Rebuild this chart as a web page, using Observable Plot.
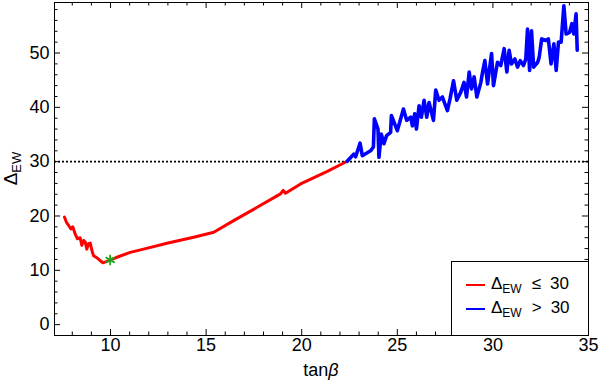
<!DOCTYPE html>
<html><head><meta charset="utf-8">
<script src="https://cdn.jsdelivr.net/npm/d3@7"></script>
<script src="https://cdn.jsdelivr.net/npm/@observablehq/plot@0.6"></script>
<style>
body{margin:0;background:#fff;font-family:"Liberation Sans",Arial,sans-serif;}
#wrap{position:relative;width:600px;height:382px;}
#legend{position:absolute;left:451px;top:261px;width:137px;height:74px;border-left:1px solid #000;border-top:1px solid #000;background:#fff;box-sizing:border-box;font-size:17px;color:#000;}
.row{position:absolute;left:0;height:20px;white-space:nowrap;}
.sw{position:absolute;left:14px;width:19px;height:2px;}
.lt{position:absolute;left:39px;line-height:20px;}
.lt sub{font-size:12px;vertical-align:-4px;line-height:0;}
.op{margin-left:10px;}
.num{margin-left:9px;}
</style></head><body><div id="wrap"><div id="legend"></div></div>
<script>
// red branch (Delta_EW <= 30)
const redX = [7.59,7.70,7.80,7.93,8.03,8.15,8.27,8.41,8.50,8.59,8.68,8.76,8.85,8.94,9.03,9.11,9.29,9.42,9.60,9.78,9.98,10.33,11.03,11.73,12.95,14.35,15.40,16.44,17.67,18.89,19.03,19.15,19.94,21.34,22.38];
const redY = [19.8,18.8,18.3,17.6,18.0,16.7,15.8,16.0,14.6,15.5,15.2,13.9,14.9,15.0,13.6,12.7,12.3,11.9,11.4,11.6,11.9,12.4,13.3,13.9,14.97,16.1,17.0,19.15,21.6,24.07,24.7,24.2,25.9,28.2,30.07];
// blue branch (Delta_EW > 30)
const blueX = [22.38,22.73,22.82,23.05,23.17,23.60,23.75,23.80,23.99,24.04,24.16,24.30,24.44,24.65,24.69,25.00,25.32,25.49,25.70,25.79,25.91,26.00,26.14,26.26,26.40,26.54,26.66,26.89,27.01,27.18,27.36,27.62,27.76,27.94,28.11,28.32,28.49,28.62,28.76,28.88,29.02,29.16,29.37,29.46,29.58,29.72,29.93,30.03,30.24,30.41,30.59,30.73,30.85,30.97,31.15,31.29,31.43,31.60,31.72,31.81,31.92,32.02,32.13,32.34,32.42,32.55,32.78,32.90,33.04,33.19,33.31,33.43,33.57,33.71,33.83,34.01,34.13,34.23,34.35,34.41];
const blueY = [30.07,31.4,30.9,33.4,31.1,32.0,32.7,37.9,36.0,30.8,35.1,33.3,34.8,35.4,38.5,35.7,39.7,37.6,38.2,36.6,38.8,36.0,40.3,38.2,41.3,38.2,40.9,37.6,43.2,41.3,41.9,39.4,41.6,44.9,41.3,42.8,44.6,41.9,46.5,43.4,45.6,41.9,44.6,46.5,48.6,44.3,49.9,44.0,48.3,47.7,50.8,46.5,50.5,48.0,48.9,47.4,48.6,47.7,48.9,54.4,46.8,54.1,47.4,48.3,49.2,52.6,52.3,52.6,48.0,51.7,46.8,52.0,52.0,58.7,53.5,53.8,55.4,53.5,57.2,50.5];
// minimum point
const starX = [9.98];
const starY = [11.9];
const thresholdY = [30];
const xTicks = [10,15,20,25,30,35];
const yTicks = [0,10,20,30,40,50];
const xMinor = [8,9,11,12,13,14,16,17,18,19,21,22,23,24,26,27,28,29,31,32,33,34];
const yMinor = [2,4,6,8,12,14,16,18,22,24,26,28,32,34,36,38,42,44,46,48,52,54,56,58];
const legendOps = ["\u2264", ">"];
const legendValues = ["30", "30"];
const seriesColors = ["#ff0000", "#0000ff"];

const red = redX.map((x,i)=>({x, y:redY[i]}));
const blue = blueX.map((x,i)=>({x, y:blueY[i]}));
const star = starX.map((x,i)=>({x, y:starY[i]}));

const W=600, H=382, mL=54, mR=12, mT=2, mB=47;
const iW=W-mL-mR, iH=H-mT-mB;
const maj=6, mnr=3.5;

const chart = Plot.plot({
  width:W, height:H, marginLeft:mL, marginRight:mR, marginTop:mT, marginBottom:mB,
  x:{domain:[7.07,35]},
  y:{domain:[-2,59.3]},
  style:{fontFamily:"'Liberation Sans', Arial, sans-serif", fontSize:"18px", color:"#000", background:"#fff", overflow:"visible"},
  marks:[
    Plot.ruleY(thresholdY, {y:d=>d, stroke:"#000", strokeWidth:1.8, strokeDasharray:"2,2"}),
    Plot.line(red, {x:"x", y:"y", stroke:seriesColors[0], strokeWidth:3, strokeLinejoin:"round"}),
    Plot.line(blue, {x:"x", y:"y", stroke:seriesColors[1], strokeWidth:3.6, strokeLinejoin:"round"}),
    Plot.dot(star, {x:"x", y:"y", symbol:"asterisk", r:5, stroke:"#1ea51e", strokeWidth:1.8}),
    // inward ticks, all four sides
    Plot.tickX(xTicks, {x:d=>d, insetTop:iH-maj, stroke:"#000"}),
    Plot.tickX(xTicks, {x:d=>d, insetBottom:iH-maj, stroke:"#000"}),
    Plot.tickX(xMinor, {x:d=>d, insetTop:iH-mnr, stroke:"#000"}),
    Plot.tickX(xMinor, {x:d=>d, insetBottom:iH-mnr, stroke:"#000"}),
    Plot.tickY(yTicks, {y:d=>d, insetRight:iW-maj, stroke:"#000"}),
    Plot.tickY(yTicks, {y:d=>d, insetLeft:iW-maj, stroke:"#000"}),
    Plot.tickY(yMinor, {y:d=>d, insetRight:iW-mnr, stroke:"#000"}),
    Plot.tickY(yMinor, {y:d=>d, insetLeft:iW-mnr, stroke:"#000"}),
    Plot.frame({stroke:"#000", strokeWidth:1}),
    Plot.axisX(xTicks, {tickSize:0, tickPadding:3, label:null}),
    Plot.axisY(yTicks, {tickSize:0, tickPadding:5, label:null})
  ]
});
document.getElementById("wrap").prepend(chart);

const svg = d3.select(chart);
// x label
const xl = svg.append("text").attr("x", mL+iW/2).attr("y", 376).attr("text-anchor","middle")
  .attr("font-size",18).attr("fill","#000");
xl.append("tspan").text("tan");
xl.append("tspan").attr("font-style","italic").text("\u03b2");
// y label
const yl = svg.append("text").attr("transform",`translate(17,${mT+iH/2}) rotate(-90)`)
  .attr("text-anchor","middle").attr("font-size",19).attr("fill","#000");
yl.append("tspan").text("\u0394");
yl.append("tspan").attr("font-size",13).attr("dy",4).text("EW");

// legend
const lg = document.getElementById("legend");
legendOps.forEach((op,i)=>{
  const row = document.createElement("div");
  row.className="row"; row.style.top = (12+i*23.5)+"px";
  row.innerHTML = `<div class="sw" style="top:10px;background:${seriesColors[i]}"></div><div class="lt">\u0394<sub>EW</sub><span class="op">${op}</span><span class="num">${legendValues[i]}</span></div>`;
  lg.appendChild(row);
});
</script></body></html>
